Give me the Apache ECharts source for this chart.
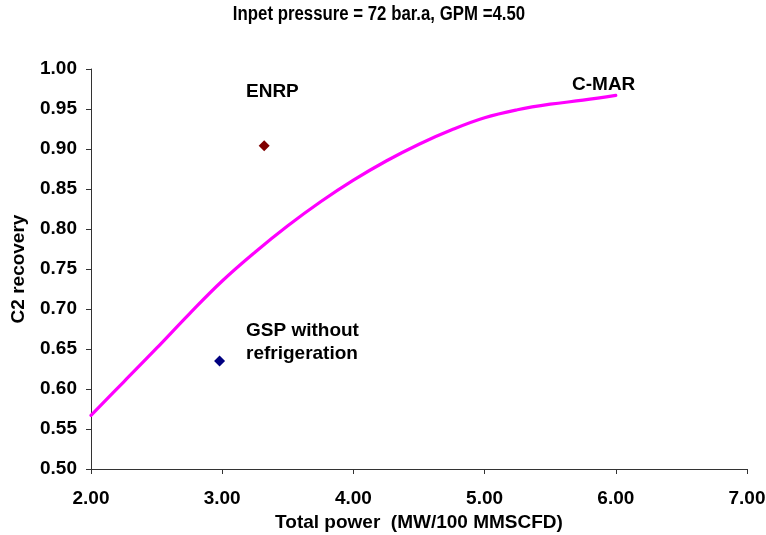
<!DOCTYPE html>
<html>
<head>
<meta charset="utf-8">
<script src="https://cdn.jsdelivr.net/npm/echarts@6/dist/echarts.min.js"></script>
<style>
  html, body { margin: 0; padding: 0; background: #fff; }
  #main { width: 766px; height: 535px; }
</style>
</head>
<body>
<div id="main"></div>
<script type="text/javascript">
// C-MAR curve
var powerX = [2.0, 2.25, 2.5, 2.75, 3.0, 3.25, 3.5, 3.75, 4.0, 4.25, 4.5, 4.75, 5.0, 5.25, 5.5, 5.75, 6.0];
var recoveryY = [0.567, 0.609, 0.651, 0.694, 0.735, 0.771, 0.804, 0.834, 0.861, 0.885, 0.906, 0.924, 0.939, 0.949, 0.956, 0.961, 0.967];
// single points
var enrpPoint = [3.32, 0.904];
var gspPoint = [2.98, 0.635];
var xTicks = ['2.00', '3.00', '4.00', '5.00', '6.00', '7.00'];

var bold = 'bold 19px "Liberation Sans", Arial, sans-serif';
var axisFont = { fontFamily: 'Liberation Sans', fontWeight: 'bold', fontSize: 19, color: '#000' };

var myChart = echarts.init(document.getElementById('main'));
var option = {
    animation: false,
    grid: { left: 91, right: 19, top: 69, bottom: 66, outerBoundsMode: 'none', containLabel: false },
    xAxis: {
        type: 'value',
        min: 2, max: 7, interval: 1,
        name: 'Total power  (MW/100 MMSCFD)',
        nameLocation: 'middle',
        nameGap: 44,
        nameTextStyle: axisFont,
        axisLine: { lineStyle: { color: '#333', width: 1 } },
        axisTick: { show: true, length: 5, lineStyle: { color: '#333' } },
        axisLabel: Object.assign({
            margin: 20,
            formatter: function (v) { return xTicks[Math.round(v - 2)]; }
        }, axisFont),
        splitLine: { show: false }
    },
    yAxis: {
        type: 'value',
        min: 0.5, max: 1.0, interval: 0.05,
        name: 'C2 recovery',
        nameLocation: 'middle',
        nameGap: 63,
        nameTextStyle: axisFont,
        axisLine: { show: true, lineStyle: { color: '#333', width: 1 } },
        axisTick: { show: true, length: 5, lineStyle: { color: '#333' } },
        axisLabel: Object.assign({
            margin: 14,
            formatter: function (v) { return v.toFixed(2); }
        }, axisFont),
        splitLine: { show: false }
    },
    series: [
        {
            name: 'C-MAR',
            type: 'line',
            smooth: 0.4,
            symbol: 'none',
            data: powerX.map(function (x, i) { return [x, recoveryY[i]]; }),
            lineStyle: { color: '#ff00ff', width: 3.2, cap: 'round' }
        },
        {
            name: 'ENRP',
            type: 'scatter',
            symbol: 'diamond',
            symbolSize: 11,
            data: [enrpPoint],
            itemStyle: { color: '#800000', opacity: 1 }
        },
        {
            name: 'GSP without refrigeration',
            type: 'scatter',
            symbol: 'diamond',
            symbolSize: 11,
            data: [gspPoint],
            itemStyle: { color: '#000080', opacity: 1 }
        }
    ],
    graphic: [
        // narrow bold title
        {
            type: 'text', x: 379, y: 4, scaleX: 0.84,
            style: {
                text: 'Inpet pressure = 72 bar.a, GPM =4.50',
                font: 'bold 20px "Liberation Sans", Arial, sans-serif',
                fill: '#000', textAlign: 'center'
            }
        },
        { type: 'text', left: 246, top: 82, style: { text: 'ENRP', font: bold, fill: '#000' } },
        { type: 'text', left: 572, top: 75, style: { text: 'C-MAR', font: bold, fill: '#000' } },
        { type: 'text', left: 246, top: 319, style: { text: 'GSP without\nrefrigeration', font: bold, fill: '#000', lineHeight: 23 } }
    ]
};
myChart.setOption(option);
</script>
</body>
</html>
